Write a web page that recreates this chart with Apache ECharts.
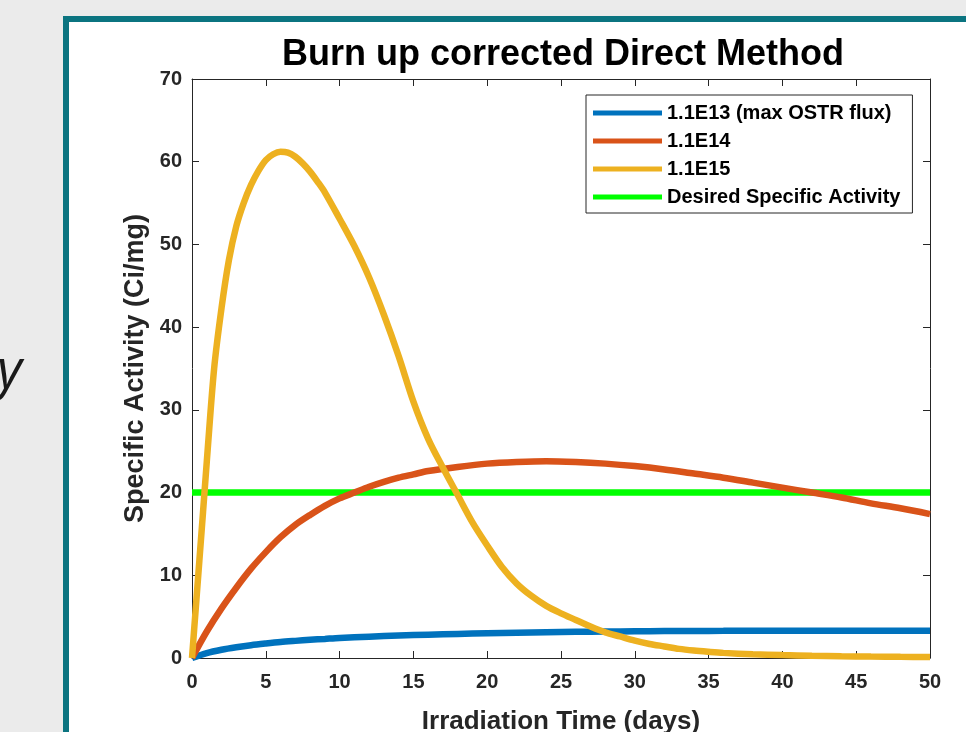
<!DOCTYPE html>
<html>
<head>
<meta charset="utf-8">
<title>Burn up corrected Direct Method</title>
<script src="https://cdn.jsdelivr.net/npm/echarts@6/dist/echarts.min.js"></script>
<style>
  html, body { margin: 0; padding: 0; background: #ebebeb; }
  #chart { width: 966px; height: 732px; }
</style>
</head>
<body>
<div id="chart"></div>
<script>
// ── 数据 ──
const seriesNames = ['1.1E13 (max OSTR flux)', '1.1E14', '1.1E15', 'Desired Specific Activity'];

const blueX = [0, 1, 2, 3, 4, 5, 6, 7, 8, 9, 10, 12, 14, 16, 18, 20, 22, 24, 26, 28, 30, 32, 34, 36, 38, 40, 42, 44, 46, 48, 50];
const blueY = [0, 0.6, 1.0, 1.3, 1.55, 1.75, 1.93, 2.07, 2.2, 2.31, 2.42, 2.58, 2.71, 2.82, 2.91, 2.99, 3.05, 3.11, 3.16, 3.2, 3.23, 3.25, 3.27, 3.28, 3.29, 3.3, 3.3, 3.3, 3.3, 3.3, 3.3];

const orangeX = [0, 1, 2, 3, 4, 5, 6, 7, 8, 9, 10, 11, 12, 13, 14, 15, 16, 18, 20, 22, 24, 26, 28, 30, 32, 34, 36, 38, 40, 42, 44, 46, 48, 50];
const orangeY = [0, 3.2, 6.0, 8.5, 10.8, 12.8, 14.6, 16.1, 17.3, 18.4, 19.3, 20.0, 20.7, 21.3, 21.8, 22.2, 22.6, 23.1, 23.5, 23.7, 23.8, 23.7, 23.5, 23.2, 22.8, 22.3, 21.8, 21.2, 20.6, 20.0, 19.4, 18.7, 18.1, 17.4];

const yellowX = [0, 0.25, 0.5, 0.75, 1, 1.5, 2, 2.5, 3, 3.5, 4, 4.5, 5, 5.5, 6, 6.5, 7, 7.5, 8, 8.5, 9, 10, 11, 12, 13, 14, 15, 16, 17, 18, 19, 20, 21, 22, 23, 24, 25, 26, 27, 28, 29, 30, 31, 32, 33, 34, 35, 36, 38, 40, 42, 44, 46, 48, 50];
const yellowY = [0, 5.9, 11.8, 17.7, 23.7, 35.0, 42.3, 48.1, 52.2, 55.0, 57.2, 58.9, 60.2, 60.9, 61.2, 61.1, 60.6, 59.8, 58.8, 57.6, 56.3, 53.1, 49.8, 46.0, 41.5, 36.5, 31.0, 26.5, 23.0, 19.7, 16.4, 13.6, 11.0, 9.0, 7.5, 6.3, 5.4, 4.6, 3.8, 3.1, 2.6, 2.1, 1.7, 1.4, 1.1, 0.9, 0.75, 0.62, 0.45, 0.35, 0.27, 0.21, 0.17, 0.14, 0.12];

const greenX = [0, 50];
const greenY = [20, 20];

const xTicks = [0, 5, 10, 15, 20, 25, 30, 35, 40, 45, 50];
const yTicks = [0, 10, 20, 30, 40, 50, 60, 70];

const pairs = (xs, ys) => xs.map((x, i) => [x, ys[i]]);

const axisColor = '#262626';
const font = '"Liberation Sans", Arial, Helvetica, sans-serif';

function baseX(extra) {
  return Object.assign({
    type: 'value',
    min: xTicks[0], max: xTicks[xTicks.length - 1], interval: 5,
    axisLine: { show: true, onZero: false, lineStyle: { color: axisColor, width: 1 } },
    axisTick: { show: true, inside: true, length: 7, lineStyle: { color: axisColor } },
    splitLine: { show: false },
  }, extra);
}
function baseY(extra) {
  return Object.assign({
    type: 'value',
    min: yTicks[0], max: yTicks[yTicks.length - 1], interval: 10,
    axisLine: { show: true, onZero: false, lineStyle: { color: axisColor, width: 1 } },
    axisTick: { show: true, inside: true, length: 7, lineStyle: { color: axisColor } },
    splitLine: { show: false },
  }, extra);
}

const chart = echarts.init(document.getElementById('chart'));

chart.setOption({
  backgroundColor: '#ebebeb',
  animation: false,
  graphic: [
    // 青色边框的白色面板（右、下超出画面）
    {
      type: 'rect', z: -100, silent: true,
      shape: { x: 66, y: 19, width: 1000, height: 800 },
      style: { fill: '#ffffff', stroke: '#0b7480', lineWidth: 6 },
    },
    // 左侧残留的斜体字母
    {
      type: 'text', z: -100, silent: true,
      left: -3, top: 346,
      style: { text: 'y', font: 'italic 54px "Open Sans", sans-serif', fill: '#1a1a1a' },
    },
  ],
  title: {
    text: 'Burn up corrected Direct Method',
    left: 558, top: 32, textAlign: 'center',
    textStyle: { fontFamily: font, fontWeight: 'bold', fontSize: 36, color: '#000' },
  },
  legend: {
    data: seriesNames,
    orient: 'vertical',
    left: 586, top: 95,
    icon: 'rect',
    itemWidth: 69, itemHeight: 5,
    itemGap: 8,
    padding: [8, 12, 6, 7],
    backgroundColor: '#fff',
    borderColor: axisColor, borderWidth: 1,
    textStyle: { fontFamily: font, fontWeight: 'bold', fontSize: 20, color: '#000' },
  },
  grid: { left: 192, top: 79, right: 36, bottom: 74, containLabel: false, outerBoundsMode: 'none' },
  xAxis: [
    baseX({
      position: 'bottom',
      name: 'Irradiation Time (days)',
      nameLocation: 'middle', nameGap: 51,
      nameTextStyle: { fontFamily: font, fontWeight: 'bold', fontSize: 26, color: axisColor },
      axisLabel: { margin: 14, fontFamily: font, fontWeight: 'bold', fontSize: 20, color: axisColor },
    }),
    baseX({ position: 'top', axisLabel: { show: false } }),
  ],
  yAxis: [
    baseY({
      position: 'left',
      name: 'Specific Activity (Ci/mg)',
      nameLocation: 'middle', nameGap: 38,
      nameTextStyle: { fontFamily: font, fontWeight: 'bold', fontSize: 27, color: axisColor },
      axisLabel: { margin: 10, padding: [4, 0, 0, 0], fontFamily: font, fontWeight: 'bold', fontSize: 20, color: axisColor },
    }),
    baseY({ position: 'right', axisLabel: { show: false } }),
  ],
  series: [
    {
      name: seriesNames[0], type: 'line', data: pairs(blueX, blueY),
      smooth: 0.3, showSymbol: false, clip: false, z: 3,
      color: '#0072BD', lineStyle: { width: 6.5, color: '#0072BD' },
    },
    {
      name: seriesNames[1], type: 'line', data: pairs(orangeX, orangeY),
      smooth: 0.3, showSymbol: false, clip: false, z: 4,
      color: '#D95319', lineStyle: { width: 6.5, color: '#D95319' },
    },
    {
      name: seriesNames[2], type: 'line', data: pairs(yellowX, yellowY),
      smooth: 0.3, showSymbol: false, clip: false, z: 5,
      color: '#EDB120', lineStyle: { width: 6.5, color: '#EDB120' },
    },
    {
      name: seriesNames[3], type: 'line', data: pairs(greenX, greenY),
      showSymbol: false, clip: false, z: 2,
      color: '#00FF00', lineStyle: { width: 6.5, color: '#00FF00' },
    },
  ],
});
</script>
</body>
</html>
